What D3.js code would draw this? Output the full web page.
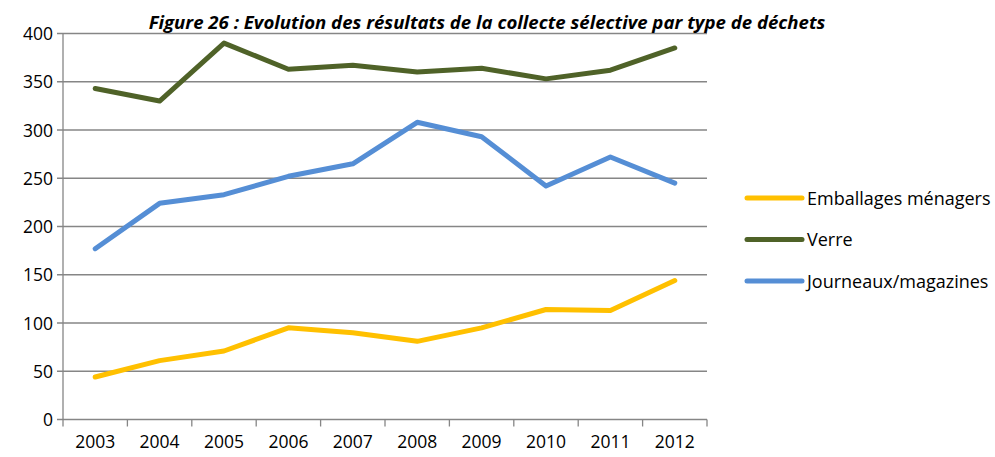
<!DOCTYPE html>
<html>
<head>
<meta charset="utf-8">
<script src="https://cdn.jsdelivr.net/npm/d3@7"></script>
<style>
  body { margin: 0; background: #fff; }
  text { font-family: "Open Sans", "Liberation Sans", sans-serif; }
</style>
</head>
<body>
<div id="chart"></div>
<script>
const years = ["2003", "2004", "2005", "2006", "2007", "2008", "2009", "2010", "2011", "2012"];
const emballages = [44, 61, 71, 95, 90, 81, 95, 114, 113, 144];
const verre = [343, 330, 390, 363, 367, 360, 364, 353, 362, 385];
const journaux = [177, 224, 233, 252, 265, 308, 293, 242, 272, 245];
const yTicks = [0, 50, 100, 150, 200, 250, 300, 350, 400];

const series = [
  {name: "Emballages ménagers", values: emballages, color: "#FFC000"},
  {name: "Verre", values: verre, color: "#4F6228"},
  {name: "Journeaux/magazines", values: journaux, color: "#558ED5"}
];

const W = 995, H = 457;
const plot = {left: 63, right: 707, top: 33.5, bottom: 419.5};

const svg = d3.select("#chart")
    .append("svg")
    .attr("width", W)
    .attr("height", H);

const x = d3.scaleBand()
    .domain(years)
    .range([plot.left, plot.right]);

const y = d3.scaleLinear()
    .domain([0, 400])
    .range([plot.bottom, plot.top]);

// gridlines
svg.append("g")
    .selectAll("line")
    .data(yTicks)
    .enter().append("line")
    .attr("x1", plot.left - 6)
    .attr("x2", plot.right)
    .attr("y1", d => y(d))
    .attr("y2", d => y(d))
    .attr("stroke", "#868686")
    .attr("stroke-width", 1.3);

// y axis line
svg.append("line")
    .attr("x1", plot.left).attr("x2", plot.left)
    .attr("y1", plot.top).attr("y2", plot.bottom)
    .attr("stroke", "#868686")
    .attr("stroke-width", 1.3);

// y labels
svg.append("g")
    .selectAll("text")
    .data(yTicks)
    .enter().append("text")
    .attr("x", 53)
    .attr("y", d => y(d) + 6.5)
    .attr("text-anchor", "end")
    .attr("font-size", "17.5px")
    .attr("fill", "#000")
    .text(d => d);

// x ticks
const xEdges = years.map(d => x(d)).concat([plot.right]);
svg.append("g")
    .selectAll("line")
    .data(xEdges)
    .enter().append("line")
    .attr("x1", d => d).attr("x2", d => d)
    .attr("y1", plot.bottom).attr("y2", plot.bottom + 7)
    .attr("stroke", "#868686")
    .attr("stroke-width", 1.3);

svg.append("g")
    .selectAll("text")
    .data(years)
    .enter().append("text")
    .attr("x", d => x(d) + x.bandwidth() / 2)
    .attr("y", 448)
    .attr("text-anchor", "middle")
    .attr("font-size", "17.5px")
    .attr("fill", "#000")
    .text(d => d);

// lines
const line = d3.line()
    .x((d, i) => x(years[i]) + x.bandwidth() / 2)
    .y(d => y(d));

svg.append("g")
    .selectAll("path")
    .data(series)
    .enter().append("path")
    .attr("d", d => line(d.values))
    .attr("fill", "none")
    .attr("stroke", d => d.color)
    .attr("stroke-width", 5)
    .attr("stroke-linejoin", "round")
    .attr("stroke-linecap", "round");

// title
svg.append("text")
    .attr("x", 487)
    .attr("y", 29)
    .attr("text-anchor", "middle")
    .attr("font-size", "18.6px")
    .attr("font-weight", "bold")
    .attr("font-style", "italic")
    .text("Figure 26 : Evolution des résultats de la collecte sélective par type de déchets");

// legend
const legend = svg.append("g")
    .selectAll("g")
    .data(series)
    .enter().append("g")
    .attr("transform", (d, i) => `translate(747, ${198 + i * 41.5})`);

legend.append("line")
    .attr("x1", 0).attr("x2", 55)
    .attr("y1", 0).attr("y2", 0)
    .attr("stroke", d => d.color)
    .attr("stroke-width", 5)
    .attr("stroke-linecap", "round");

legend.append("text")
    .attr("x", 60)
    .attr("y", 6.5)
    .attr("font-size", "18px")
    .attr("fill", "#000")
    .text(d => d.name);
</script>
</body>
</html>
